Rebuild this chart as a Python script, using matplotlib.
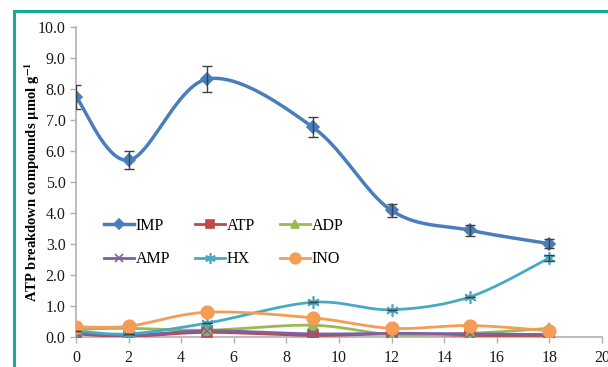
import numpy as np
import matplotlib
matplotlib.use("Agg")
import matplotlib.pyplot as plt
from matplotlib.patches import Rectangle

plt.rcParams['font.family'] = ['Liberation Serif', 'DejaVu Serif']
plt.rcParams['mathtext.fontset'] = 'stix'

# storage time (days) and ATP breakdown compounds (umol/g)
days = [0, 2, 5, 9, 12, 15, 18]
imp = [7.75, 5.70, 8.32, 6.77, 4.08, 3.44, 3.01]
imp_err = [0.39, 0.29, 0.43, 0.33, 0.20, 0.17, 0.14]
atp = [0.10, 0.02, 0.15, 0.05, 0.10, 0.05, 0.05]
adp = [0.25, 0.28, 0.22, 0.38, 0.08, 0.12, 0.28]
amp = [0.15, 0.05, 0.20, 0.10, 0.12, 0.10, 0.08]
hx = [0.20, 0.10, 0.45, 1.12, 0.88, 1.30, 2.55]
hx_err = [0, 0, 0, 0, 0, 0, 0.10]
ino = [0.33, 0.35, 0.80, 0.62, 0.28, 0.37, 0.20]


def smooth(x, y, n=40):
    # excel-style smoothed line: cubic bezier with catmull-rom control points
    x = np.asarray(x, float)
    y = np.asarray(y, float)
    px = np.concatenate([[x[0]], x, [x[-1]]])
    py = np.concatenate([[y[0]], y, [y[-1]]])
    t = np.linspace(0, 1, n)
    xs, ys = [], []
    for i in range(1, len(px) - 2):
        x0, x1, x2, x3 = px[i - 1:i + 3]
        y0, y1, y2, y3 = py[i - 1:i + 3]
        bx = [x1, x1 + (x2 - x0) / 6, x2 - (x3 - x1) / 6, x2]
        by = [y1, y1 + (y2 - y0) / 6, y2 - (y3 - y1) / 6, y2]
        c = [(1 - t) ** 3, 3 * (1 - t) ** 2 * t, 3 * (1 - t) * t ** 2, t ** 3]
        xs.append(sum(c[k] * bx[k] for k in range(4)))
        ys.append(sum(c[k] * by[k] for k in range(4)))
    return np.concatenate(xs), np.concatenate(ys)


series = [
    ("IMP", imp, "#4a7ebb", "D", 6.5, 2.5),
    ("ATP", atp, "#be4b48", "s", 7, 2.0),
    ("ADP", adp, "#98b954", "^", 7, 2.0),
    ("AMP", amp, "#7d60a0", "x", 7, 2.0),
    ("HX", hx, "#46aac5", (6, 2, 0), 9, 2.0),
    ("INO", ino, "#f59d56", "o", 9, 2.0),
]

fig = plt.figure(figsize=(6.08, 3.67), dpi=100)
ax = fig.add_axes([0.125, 0.0817, 0.865, 0.845])

handles = {}
for name, vals, col, mk, ms, lw in series:
    sx, sy = smooth(days, vals)
    ax.plot(sx, sy, color=col, lw=lw, zorder=3)
    ax.plot(days, vals, ls='none', marker=mk, color=col, ms=ms,
            mew=1.2, zorder=4)
    handles[name] = ax.plot([], [], color=col, lw=lw, marker=mk, ms=ms,
                            mew=1.2)[0]

ax.errorbar(days, imp, yerr=imp_err, fmt='none', ecolor='#404040',
            elinewidth=1.0, capsize=3.5, capthick=1.0, zorder=5)
ax.errorbar(days, hx, yerr=hx_err, fmt='none', ecolor='#404040',
            elinewidth=1.0, capsize=3.5, capthick=1.0, zorder=5)

ax.set_xlim(0, 20)
ax.set_ylim(0, 10)
ax.set_xticks(np.arange(0, 21, 2))
ax.set_yticks(np.arange(0, 10.1, 1))
ax.set_yticklabels(["%.1f" % v for v in np.arange(0, 10.1, 1)])
for s in ("top", "right"):
    ax.spines[s].set_visible(False)
for s in ("left", "bottom"):
    ax.spines[s].set_color("#b0b0b0")
    ax.spines[s].set_linewidth(1.2)
ax.spines["left"].set_zorder(1)
ax.spines["bottom"].set_zorder(1)
ax.tick_params(colors="#b0b0b0", labelcolor="#1a1a1a", labelsize=11.5,
               length=4, width=1)
ax.tick_params(axis="x", pad=5)
ax.set_ylabel(r"ATP breakdown compounds $\mathbf{\mu}$mol g$^{\mathbf{-1}}$",
              fontsize=10.5, fontweight="bold", labelpad=-3)

order = ["IMP", "AMP", "ATP", "HX", "ADP", "INO"]
ax.legend([handles[k] for k in order], order, ncol=3, frameon=False,
          loc="center left", bbox_to_anchor=(0.025, 0.305), fontsize=11.5,
          handlelength=1.9, columnspacing=1.55, labelspacing=1.1,
          handletextpad=0.1, markerscale=0.85)

# teal frame round the figure
fig.patches.append(Rectangle((14 / 608, -0.1), 1.2, 1.0 - 11 / 367 + 0.1,
                             transform=fig.transFigure, fill=False,
                             edgecolor="#14ab98", lw=2.2, zorder=10))

fig.savefig("out.png", dpi=100)
